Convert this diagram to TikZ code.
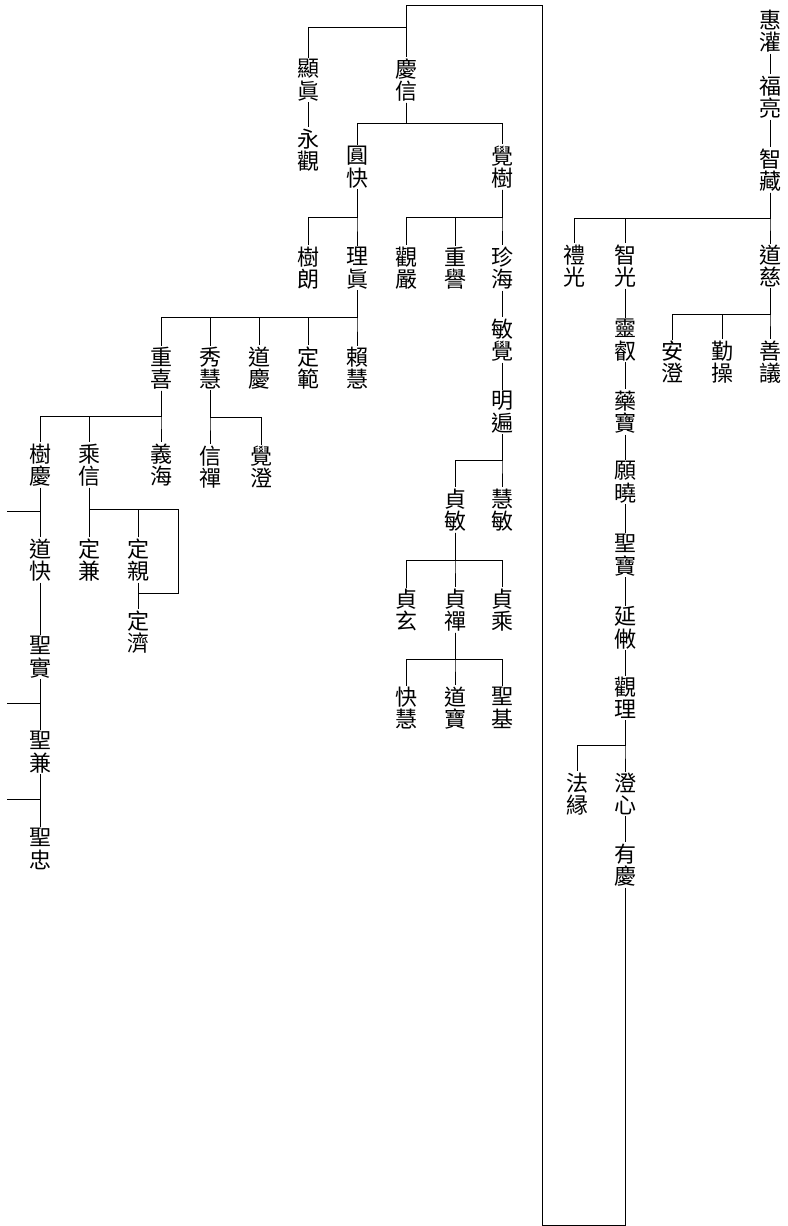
\documentclass[tikz,border=0pt]{standalone}
\usepackage{fontspec}
\newfontfamily\cjk{Noto Sans CJK TC}
\usetikzlibrary{calc}

\begin{document}
\begin{tikzpicture}[x=1pt, y=-1pt,
    monk/.style={font=\cjk\fontsize{22}{22.5}\selectfont, align=center, inner sep=1pt},
    link/.style={line width=0.7pt},
    frame/.style={line width=0.9pt},
    bus/.style={to path={-- ($(\tikztostart)!0.5!(\tikztostart |- \tikztotarget)$) -| (\tikztotarget)}}]
    \useasboundingbox (0,0) rectangle (787,1226);

    % right-hand line
    \node[monk] (eikan) at (770,31) {惠\\灌};
    \node[monk] (fukuryo) at (770,97) {福\\亮};
    \node[monk] (chizo) at (770,170) {智\\藏};
    \node[monk] (raiko) at (574,266) {禮\\光};
    \node[monk] (chiko) at (625,266) {智\\光};
    \node[monk] (doji) at (770,266) {道\\慈};
    \node[monk] (ancho) at (672,362) {安\\澄};
    \node[monk] (gonso) at (722,362) {勤\\操};
    \node[monk] (zengi) at (770,362) {善\\議};
    \node[monk] (reiei) at (625,340) {靈\\叡};
    \node[monk] (yakuho) at (625,412) {藥\\寶};
    \node[monk] (gangyo) at (625,482) {願\\曉};
    \node[monk] (shobo) at (625,555) {聖\\寶};
    \node[monk] (enbin) at (625,628) {延\\敒};
    \node[monk] (kanri) at (625,698) {觀\\理};
    \node[monk] (hoen) at (577,794) {法\\縁};
    \node[monk] (choshin) at (625,794) {澄\\心};
    \node[monk] (yukei) at (625,865) {有\\慶};

    \draw[link] (eikan) -- (fukuryo) -- (chizo);
    \foreach \c in {raiko,chiko,doji} \draw[link] (chizo.south) to[bus] (\c.north);
    \foreach \c in {ancho,gonso,zengi} \draw[link] (doji.south) to[bus] (\c.north);
    \draw[link] (chiko) -- (reiei) -- (yakuho) -- (gangyo) -- (shobo) -- (enbin) -- (kanri);
    \foreach \c in {hoen,choshin} \draw[link] (kanri.south) to[bus] (\c.north);
    \draw[link] (choshin) -- (yukei);

    % from yukei round to keishin
    \coordinate (loopbot) at (542,1225);
    \coordinate (looptop) at (542,5);
    \coordinate (topbus) at (406,27);

    % middle line
    \node[monk] (keishin) at (406,80) {慶\\信};
    \node[monk] (kenshin) at (308,80) {顯\\眞};
    \node[monk] (yokan) at (308,150) {永\\觀};
    \node[monk] (enkai) at (357,167) {圓\\快};
    \node[monk] (kakuju) at (502,167) {覺\\樹};
    \node[monk] (juro) at (308,268) {樹\\朗};
    \node[monk] (rishin) at (357,268) {理\\眞};
    \node[monk] (kangon) at (406,268) {觀\\嚴};
    \node[monk] (juyo) at (455,268) {重\\譽};
    \node[monk] (chinkai) at (502,268) {珍\\海};
    \node[monk] (binkaku) at (502,340) {敏\\覺};
    \node[monk] (myohen) at (502,412) {明\\遍};
    \node[monk] (teibin) at (455,510) {貞\\敏};
    \node[monk] (ebin) at (502,510) {慧\\敏};
    \node[monk] (teigen) at (406,610) {貞\\玄};
    \node[monk] (teizen) at (455,610) {貞\\禪};
    \node[monk] (teijo) at (502,610) {貞\\乘};
    \node[monk] (kaie) at (406,708) {快\\慧};
    \node[monk] (doho) at (455,708) {道\\寶};
    \node[monk] (shoki) at (502,708) {聖\\基};

    \draw[frame] (yukei.south) |- (loopbot) -- (looptop) -| (keishin.north);
    \draw[link] (topbus) -| (kenshin.north);
    \draw[link] (kenshin) -- (yokan);
    \foreach \c in {enkai,kakuju} \draw[link] (keishin.south) to[bus] (\c.north);
    \foreach \c in {juro,rishin} \draw[link] (enkai.south) to[bus] (\c.north);
    \foreach \c in {kangon,juyo,chinkai} \draw[link] (kakuju.south) to[bus] (\c.north);
    \draw[link] (chinkai) -- (binkaku) -- (myohen);
    \foreach \c in {teibin,ebin} \draw[link] (myohen.south) to[bus] (\c.north);
    \foreach \c in {teigen,teizen,teijo} \draw[link] (teibin.south) to[bus] (\c.north);
    \foreach \c in {kaie,doho,shoki} \draw[link] (teizen.south) to[bus] (\c.north);

    % left line
    \node[monk] (chuki) at (161,368) {重\\喜};
    \node[monk] (shue) at (210,368) {秀\\慧};
    \node[monk] (dokei) at (259,368) {道\\慶};
    \node[monk] (johan) at (308,368) {定\\範};
    \node[monk] (raie) at (357,368) {賴\\慧};
    \node[monk] (jukei) at (40,465) {樹\\慶};
    \node[monk] (joshin) at (89,465) {乘\\信};
    \node[monk] (gikai) at (161,465) {義\\海};
    \node[monk] (shinzen) at (210,467) {信\\禪};
    \node[monk] (kakucho) at (261,467) {覺\\澄};
    \node[monk] (dokai) at (40,560) {道\\快};
    \node[monk] (teiken) at (89,560) {定\\兼};
    \node[monk] (teishin) at (138,560) {定\\親};
    \node[monk] (teisai) at (138,632) {定\\濟};
    \node[monk] (shojitsu) at (40,657) {聖\\實};
    \node[monk] (shoken) at (40,752) {聖\\兼};
    \node[monk] (shochu) at (40,849) {聖\\忠};

    \foreach \c in {chuki,shue,dokei,johan,raie} \draw[link] (rishin.south) to[bus] (\c.north);
    \foreach \c in {jukei,joshin,gikai} \draw[link] (chuki.south) to[bus] (\c.north);
    \foreach \c in {shinzen,kakucho} \draw[link] (shue.south) to[bus] (\c.north);
    \draw[link] (jukei) -- (dokai) -- (shojitsu) -- (shoken) -- (shochu);
    \draw[link] (joshin) -- (teiken);
    \draw[link] (teishin) -- (teisai);

    \coordinate (boxtop) at (178,509);
    \coordinate (boxbot) at (178,593);
    \draw[link] (joshin.south) |- (boxtop) -- (boxbot) -- (boxbot -| teishin.south);
    \draw[link] (teishin.north) -- (teishin.north |- boxtop);

    \coordinate (stubA) at (7,511);
    \coordinate (stubB) at (7,703);
    \coordinate (stubC) at (7,799);
    \draw[link] (stubA) -- (stubA -| jukei.south);
    \draw[link] (stubB) -- (stubB -| jukei.south);
    \draw[link] (stubC) -- (stubC -| jukei.south);
\end{tikzpicture}
\end{document}
